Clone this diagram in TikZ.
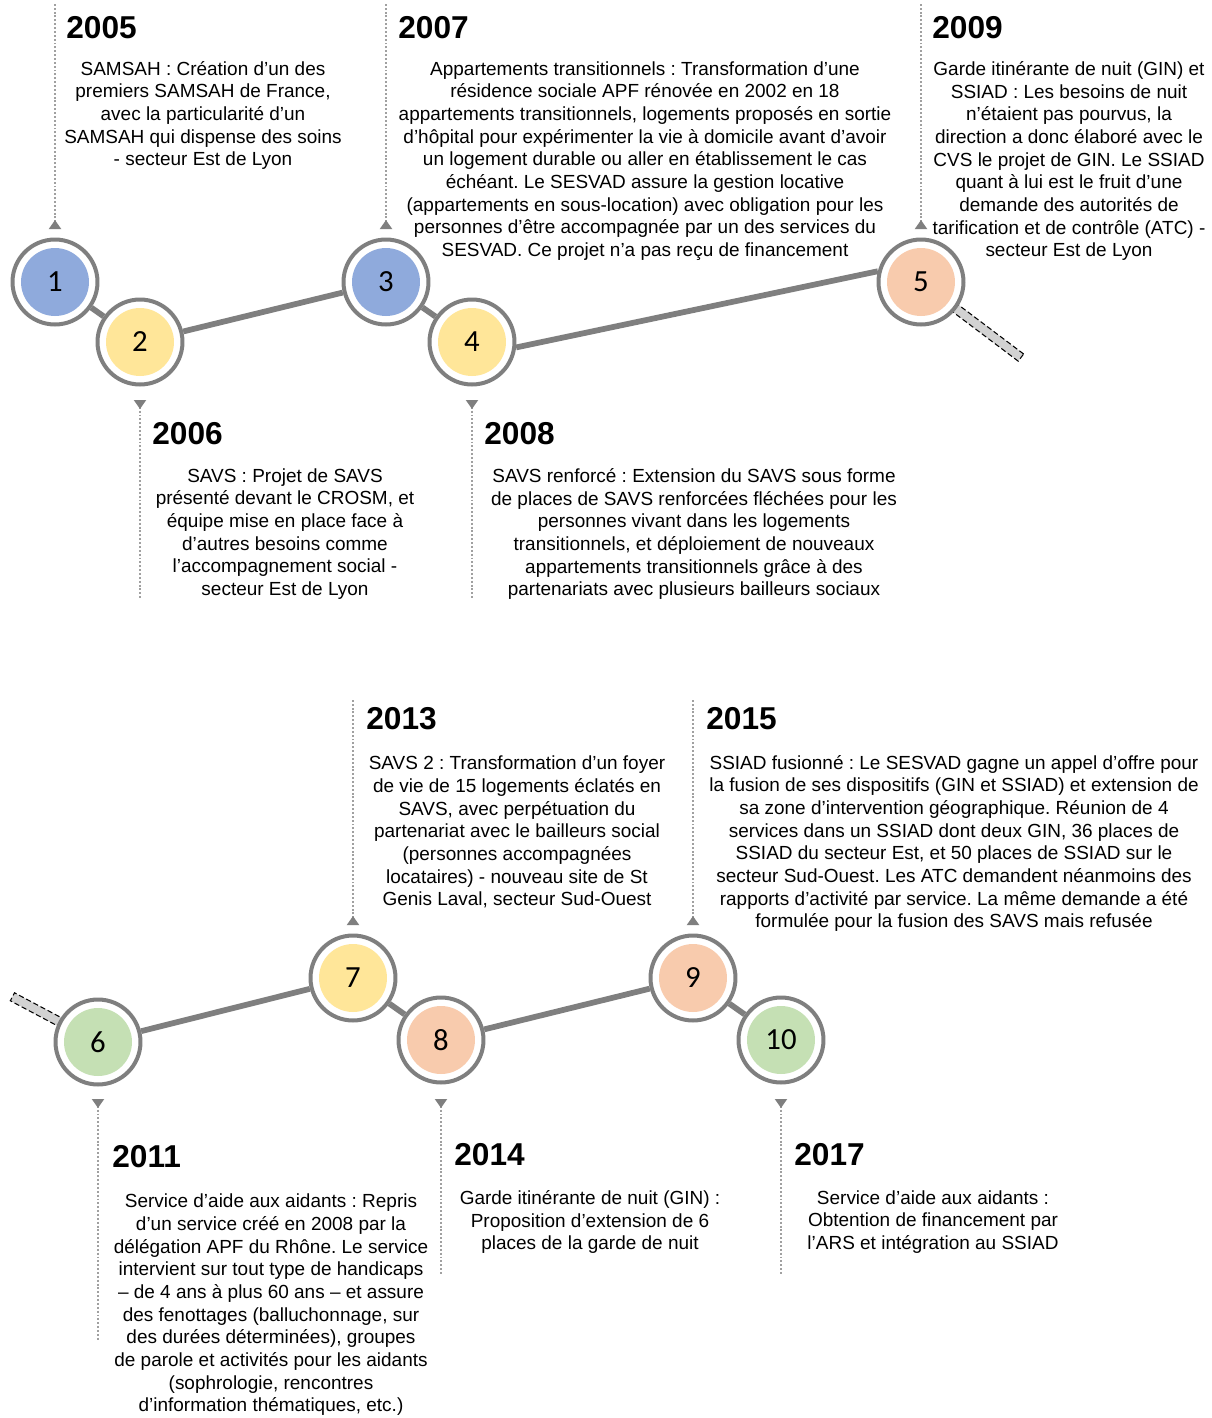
\documentclass[tikz,border=0pt]{standalone}
\usepackage{fontspec}
\setmainfont{Liberation Sans}
\newfontfamily\stagefont{Carlito}
\usetikzlibrary{arrows.meta, calc, backgrounds}
\frenchspacing
\definecolor{ringgray}{RGB}{127, 127, 127}
\definecolor{tickgray}{RGB}{160, 160, 160}
\definecolor{handlefill}{RGB}{210, 210, 210}
\definecolor{stageblue}{RGB}{143, 170, 220}
\definecolor{stageyellow}{RGB}{255, 230, 153}
\definecolor{stagepeach}{RGB}{248, 203, 173}
\definecolor{stagegreen}{RGB}{197, 224, 180}
\tikzset{
  stage/.style={
    circle, draw=ringgray, line width=0.08cm, fill=white,
    minimum size=1.7cm, inner sep=0pt,
    font=\stagefont\fontsize{17.5}{17.5}\selectfont,
    path picture={\fill[#1] (path picture bounding box.center) circle (0.68cm);}
  },
  link/.style={draw=ringgray, line width=0.115cm},
  handle/.style={
    rectangle, draw=black, fill=handlefill, line width=0.6pt,
    dash pattern=on 3pt off 1.6pt, minimum height=0.18cm, inner sep=0pt
  },
  tick/.style={
    draw=tickgray, line width=1.1pt, dash pattern=on 1.1pt off 1.1pt,
    {Triangle[reversed, length=0.18cm, width=0.24cm, color=ringgray]}-
  },
  year/.style={font=\bfseries\fontsize{18}{20}\selectfont, anchor=west, inner sep=0pt},
  desc/.style={font=\fontsize{10.8}{12.9}\selectfont, align=center, inner sep=0pt,
               yshift=-0.04cm},
}

\begin{document}
\begin{tikzpicture}[x=0.02cm, y=-0.02cm]
  \useasboundingbox (0, 0) rectangle (1212, 1418);

  % ============ MAGNIFIER HANDLES ============
  \begin{scope}[on background layer]
    \node[handle, rotate=-37, minimum width=1.9cm]  (h5) at (983, 329) {};
    \node[handle, rotate=-28, minimum width=1.34cm] (h6) at (42, 1012.5) {};
  \end{scope}

  % ============ STAGES (row 1) ============
  \node[stage=stageblue]   (c1) at ( 55, 282) {1};
  \node[stage=stageyellow] (c2) at (140, 342) {2};
  \node[stage=stageblue]   (c3) at (386, 282) {3};
  \node[stage=stageyellow] (c4) at (472, 342) {4};
  \node[stage=stagepeach]  (c5) at (921, 282) {5};

  % ============ STAGES (row 2) ============
  \node[stage=stagegreen]  (c6)  at ( 98, 1042) {6};
  \node[stage=stageyellow] (c7)  at (353,  978) {7};
  \node[stage=stagepeach]  (c8)  at (441, 1040) {8};
  \node[stage=stagepeach]  (c9)  at (693,  978) {9};
  \node[stage=stagegreen]  (c10) at (781, 1040) {10};

  % links between stages
  \foreach \a/\b in {c1/c2, c2/c3, c3/c4, c6/c7, c7/c8, c8/c9, c9/c10} {
    \draw[link] (\a) -- (\b);
  }
  \draw[link] (c4.-7) -- (c5.166);

  % ============ TICKS ============
  \coordinate (t1)  at ( 55,    4);
  \coordinate (t3)  at (386,    4);
  \coordinate (t5)  at (921,    4);
  \coordinate (t2)  at (140,  598);
  \coordinate (t4)  at (472,  598);
  \coordinate (t7)  at (353,  698);
  \coordinate (t9)  at (693,  698);
  \coordinate (t6)  at ( 98, 1341);
  \coordinate (t8)  at (441, 1274);
  \coordinate (t10) at (781, 1274);

  \foreach \n/\anc/\off in {1/north/-8.5, 3/north/-8.5, 5/north/-8.5,
                            7/north/-8.5, 9/north/-8.5, 2/south/13.5,
                            4/south/13.5, 6/south/12.5, 8/south/14.5,
                            10/south/14.5} {
    \draw[tick] ($(c\n.\anc)+(0,\off)$) -- (t\n);
  }

  % ============ EVENTS (top) ============
  \node[year] (y2005) at (66, 27.5) {2005};
  \node[desc] (d2005) at (203, 113.5) {SAMSAH : Création d’un des\\
    premiers SAMSAH de France,\\ avec la particularité d’un\\
    SAMSAH qui dispense des soins\\ - secteur Est de Lyon};

  \node[year] (y2007) at (398, 27.5) {2007};
  \node[desc] (d2007) at (645, 159) {Appartements transitionnels : Transformation d’une\\
    résidence sociale APF rénovée en 2002 en 18\\
    appartements transitionnels, logements proposés en sortie\\
    d’hôpital pour expérimenter la vie à domicile avant d’avoir\\
    un logement durable ou aller en établissement le cas\\
    échéant. Le SESVAD assure la gestion locative\\
    (appartements en sous-location) avec obligation pour les\\
    personnes d’être accompagnée par un des services du\\
    SESVAD. Ce projet n’a pas reçu de financement};

  \node[year] (y2009) at (932, 27.5) {2009};
  \node[desc] (d2009) at (1069, 159) {Garde itinérante de nuit (GIN) et\\
    SSIAD : Les besoins de nuit\\ n’étaient pas pourvus, la\\
    direction a donc élaboré avec le\\ CVS le projet de GIN. Le SSIAD\\
    quant à lui est le fruit d’une\\ demande des autorités de\\
    tarification et de contrôle (ATC) -\\ secteur Est de Lyon};

  \node[year] (y2006) at (152, 434) {2006};
  \node[desc] (d2006) at (285, 532) {SAVS : Projet de SAVS\\
    présenté devant le CROSM, et\\ équipe mise en place face à\\
    d’autres besoins comme\\ l’accompagnement social -\\ secteur Est de Lyon};

  \node[year] (y2008) at (484, 434) {2008};
  \node[desc] (d2008) at (694, 532) {SAVS renforcé : Extension du SAVS sous forme\\
    de places de SAVS renforcées fléchées pour les\\
    personnes vivant dans les logements\\
    transitionnels, et déploiement de nouveaux\\
    appartements transitionnels grâce à des\\
    partenariats avec plusieurs bailleurs sociaux};

  % ============ EVENTS (bottom) ============
  \node[year] (y2013) at (366, 719) {2013};
  \node[desc] (d2013) at (517, 830) {SAVS 2 : Transformation d’un foyer\\
    de vie de 15 logements éclatés en\\ SAVS, avec perpétuation du\\
    partenariat avec le bailleurs social\\ (personnes accompagnées\\
    locataires) - nouveau site de St\\ Genis Laval, secteur Sud-Ouest};

  \node[year] (y2015) at (706, 719) {2015};
  \node[desc] (d2015) at (954, 841.5) {SSIAD fusionné : Le SESVAD gagne un appel d’offre pour\\
    la fusion de ses dispositifs (GIN et SSIAD) et extension de\\
    sa zone d’intervention géographique. Réunion de 4\\
    services dans un SSIAD dont deux GIN, 36 places de\\
    SSIAD du secteur Est, et 50 places de SSIAD sur le\\
    secteur Sud-Ouest. Les ATC demandent néanmoins des\\
    rapports d’activité par service. La même demande a été\\
    formulée pour la fusion des SAVS mais refusée};

  \node[year] (y2011) at (112, 1157) {2011};
  \node[desc] (d2011) at (271, 1303) {Service d’aide aux aidants : Repris\\
    d’un service créé en 2008 par la\\ délégation APF du Rhône. Le service\\
    intervient sur tout type de handicaps\\ – de 4 ans à plus 60 ans – et assure\\
    des fenottages (balluchonnage, sur\\ des durées déterminées), groupes\\
    de parole et activités pour les aidants\\ (sophrologie, rencontres\\
    d’information thématiques, etc.)};

  \node[year] (y2014) at (454, 1155) {2014};
  \node[desc] (d2014) at (590, 1220) {Garde itinérante de nuit (GIN) :\\
    Proposition d’extension de 6\\ places de la garde de nuit};

  \node[year] (y2017) at (794, 1155) {2017};
  \node[desc] (d2017) at (933, 1220) {Service d’aide aux aidants :\\
    Obtention de financement par\\ l’ARS et intégration au SSIAD};

\end{tikzpicture}
\end{document}
